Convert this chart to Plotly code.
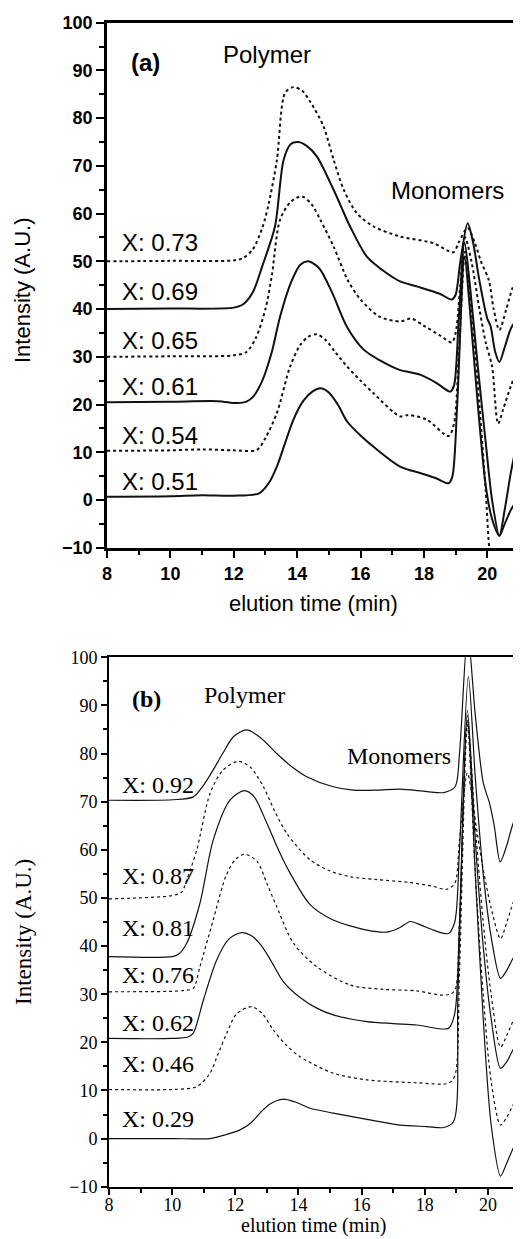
import plotly.graph_objects as go

# ---------------- panel (a) data ----------------
a_x073 = [8, 10, 12.0, 12.3, 12.6, 12.9, 13.1, 13.36, 13.62, 13.88, 14.15, 14.41, 14.83, 15.15, 15.47, 15.88, 16.41, 17.25, 18.3, 18.93, 19.1, 19.38, 19.6, 19.8, 20.05, 20.2, 20.38, 20.6, 20.8, 21]
a_y073 = [50, 50.1, 50.2, 50.7, 52.5, 57, 62, 71.2, 85.3, 86.5, 85.8, 83.5, 78.3, 71.3, 65, 60.1, 57.3, 55.2, 53.8, 51.9, 54, 57, 54, 50, 46, 40, 35.6, 40, 44.5, 47]

a_x069 = [8, 10, 12.0, 12.3, 12.6, 12.9, 13.3, 13.57, 13.8, 14.04, 14.3, 14.62, 15.15, 15.67, 16.2, 16.83, 17.25, 17.8, 18.5, 18.88, 19.0, 19.15, 19.38, 19.55, 19.75, 20.0, 20.1, 20.25, 20.38, 20.55, 20.75, 21]
a_y069 = [40, 40.1, 40.3, 41, 43.5, 49, 57.3, 71.2, 74.6, 75, 74.2, 72, 65, 57.3, 51, 47.5, 45.8, 44.7, 43.2, 42, 43, 50, 58, 54, 46, 38, 36.5, 31, 28.9, 32, 36, 38.4]

a_x065 = [8, 10, 12.0, 12.4, 12.7, 13.0, 13.2, 13.46, 13.8, 14.15, 14.45, 14.73, 15.15, 15.6, 16.0, 16.6, 17.25, 17.6, 18.0, 18.5, 18.88, 19.0, 19.15, 19.3, 19.5, 19.75, 19.95, 20.15, 20.34, 20.5, 20.75, 21]
a_y065 = [30, 30.1, 30.3, 31, 34, 40, 47, 58.7, 62.5, 63.6, 62, 58.7, 53.1, 46, 42, 38.4, 37.4, 38, 36.5, 34.5, 33, 35, 45, 55, 50, 40, 33, 28, 16, 19, 24, 28]

a_x061 = [8, 10, 11.5, 12.1, 12.4, 12.62, 12.9, 13.2, 13.46, 13.8, 14.1, 14.36, 14.7, 15.1, 15.57, 16.1, 16.6, 17.25, 17.6, 17.9, 18.4, 18.83, 18.95, 19.1, 19.28, 19.45, 19.7, 19.95, 20.15, 20.38, 20.55, 20.75, 21]
a_y061 = [20.5, 20.6, 20.7, 20.3, 20.6, 21.7, 25, 31, 38.4, 45.5, 49.3, 50, 48.5, 43.5, 36.3, 31.5, 29.3, 27.2, 26.7, 26.2, 24.5, 22.7, 24, 38, 54, 45, 28, 12, 0, -7.5, -2, 6, 14]

a_x054 = [8, 10, 11, 12, 12.73, 13.0, 13.36, 13.78, 14.1, 14.35, 14.62, 14.9, 15.2, 15.57, 16.0, 16.4, 17.25, 17.5, 17.7, 18.1, 18.78, 18.95, 19.1, 19.3, 19.5, 19.75, 19.95, 20.1, 20.3, 20.7, 21]
a_y054 = [10.3, 10.4, 10.6, 10.4, 10.5, 13, 18.2, 28, 32.5, 34.2, 34.7, 33.5, 31, 28, 25, 22.4, 17.5, 17.8, 17.6, 16.8, 13.4, 16, 30, 52, 40, 20, 2, -12, -16, -14, -6]

a_x051 = [8, 10, 11, 12, 12.8, 13.1, 13.36, 13.88, 14.2, 14.5, 14.73, 15.0, 15.3, 15.57, 16.0, 16.4, 17.25, 17.9, 18.4, 18.78, 18.9, 19.05, 19.28, 19.45, 19.7, 19.95, 20.15, 20.38, 20.55, 20.75, 21]
a_y051 = [0.7, 0.8, 1.0, 0.9, 1.4, 3.5, 7, 16.8, 20.8, 22.8, 23.4, 22.5, 19.8, 16.5, 13.5, 11.2, 7, 5.6, 4.5, 3.5, 5, 20, 51, 40, 20, 3, -4, -7.5, -5, -2, 0.5]

a_labels = ["X: 0.73", "X: 0.69", "X: 0.65", "X: 0.61", "X: 0.54", "X: 0.51"]
a_label_y = [53.9, 43.6, 33.5, 23.7, 13.6, 3.8]

# ---------------- panel (b) data ----------------
b_x092 = [8, 10, 10.67, 11.0, 11.3, 11.6, 11.94, 12.36, 12.8, 13.31, 13.8, 14.26, 15.1, 15.74, 16.5, 17.22, 18.07, 18.6, 18.96, 19.1, 19.36, 19.6, 19.85, 20.05, 20.2, 20.39, 20.6, 20.8, 21]
b_y092 = [70.3, 70.4, 71, 73.5, 76.6, 80, 83.5, 84.9, 83.3, 80, 77.2, 75.2, 73.1, 72.4, 72.4, 72.6, 72.1, 71.9, 73.1, 80, 105, 88, 74, 69.7, 65, 57.5, 61, 65.5, 68]

b_x087 = [8, 10, 10.3, 10.46, 10.78, 11.2, 11.6, 12.1, 12.5, 12.89, 13.25, 13.63, 14.37, 15.0, 15.64, 16.5, 17.54, 18.2, 18.7, 18.95, 19.1, 19.35, 19.6, 19.85, 20.1, 20.4, 20.6, 20.8, 21]
b_y087 = [49.8, 50.5, 51.2, 53.7, 60, 71.7, 76.5, 78.4, 77, 73.1, 68, 63.4, 57.9, 55.6, 54.4, 53.8, 53.2, 52.5, 51.8, 53, 62, 76, 66, 56, 48, 41.5, 45, 49, 52]

b_x081 = [8, 10, 10.2, 10.46, 10.88, 11.3, 11.83, 12.29, 12.6, 13.0, 13.4, 13.74, 14.37, 15.1, 16.17, 16.8, 17.2, 17.54, 17.9, 18.28, 18.75, 18.95, 19.1, 19.38, 19.6, 19.85, 20.1, 20.4, 20.6, 20.8, 21]
b_y081 = [37.8, 37.8, 38.3, 40.6, 48.9, 62, 70.3, 72.3, 71, 65.5, 59.5, 55.1, 48.6, 45.4, 43.3, 42.9, 43.8, 45.1, 44.3, 43.3, 42.6, 45, 60, 96, 75, 55, 42, 33.3, 35, 37.5, 39.2]

b_x076 = [8, 10, 10.4, 10.67, 10.88, 11.3, 11.7, 12.0, 12.31, 12.7, 13.0, 13.31, 13.84, 14.58, 15.64, 16.69, 17.75, 18.49, 18.8, 18.96, 19.1, 19.35, 19.6, 19.85, 20.1, 20.4, 20.6, 20.8, 21]
b_y076 = [30.5, 30.6, 30.8, 31.2, 35.7, 45.4, 54.5, 58, 59.1, 57.5, 53, 48.2, 40.6, 35.7, 31.9, 31, 30.7, 29.8, 30, 30.9, 45, 87, 65, 45, 30, 19, 21.5, 24.5, 27.4]

b_x062 = [8, 10, 10.5, 10.67, 10.99, 11.41, 11.8, 12.2, 12.5, 12.8, 13.1, 13.52, 14.05, 14.58, 15.1, 16.17, 17.0, 17.75, 18.75, 18.95, 19.1, 19.35, 19.6, 19.85, 20.1, 20.4, 20.6, 20.8, 21]
b_y062 = [20.8, 20.8, 21.1, 21.9, 28.8, 37.1, 41.5, 42.8, 42.2, 40.3, 37.3, 32.6, 29.3, 27.1, 25.7, 24.3, 23.9, 23.6, 22.9, 26, 45, 89, 62, 40, 25, 14.6, 16, 18.5, 20.1]

b_x046 = [8, 10, 10.78, 11.2, 11.45, 11.73, 12.05, 12.52, 12.85, 13.2, 13.6, 14.05, 15.1, 16.17, 17.75, 18.75, 18.95, 19.1, 19.35, 19.6, 19.85, 20.1, 20.4, 20.6, 20.8, 21]
b_y046 = [10.2, 10.2, 10.8, 13.6, 17.5, 21.9, 26, 27.4, 26, 22.6, 19.5, 17, 13.6, 12.2, 11.6, 11.5, 13, 35, 86, 55, 30, 12, 2.8, 4.5, 7, 9.4]

b_x029 = [8, 10, 11.2, 11.7, 12.15, 12.5, 12.78, 13.1, 13.52, 13.9, 14.37, 15.1, 16.17, 17.22, 18.07, 18.6, 18.91, 19.05, 19.35, 19.6, 19.85, 20.1, 20.4, 20.6, 20.8, 21]
b_y029 = [0, 0, 0, 0.8, 1.8, 3.3, 5.3, 7.2, 8.2, 7.6, 6.3, 5.3, 4, 2.8, 2.5, 2.3, 3.5, 30, 88, 55, 25, 3, -7.8, -5, -2, 0.7]

b_labels = ["X: 0.92", "X: 0.87", "X: 0.81", "X: 0.76", "X: 0.62", "X: 0.46", "X: 0.29"]
b_label_y = [73.5, 54.6, 43.8, 34.0, 24.0, 15.5, 4.1]

x_ticks = [8, 10, 12, 14, 16, 18, 20]
y_ticks = [-10, 0, 10, 20, 30, 40, 50, 60, 70, 80, 90, 100]

# page is shown with the browser's default 8px body margin
OFF = 8
W, H = 521 - OFF, 1239


def px(p):
    return (p - OFF) / W


def py(p):
    return 1 - (p - OFF) / H


fig = go.Figure()

a_series = [(a_x073, a_y073, "dot"), (a_x069, a_y069, "solid"), (a_x065, a_y065, "dot"),
            (a_x061, a_y061, "solid"), (a_x054, a_y054, "dot"), (a_x051, a_y051, "solid")]
for xs, ys, dash in a_series:
    fig.add_trace(go.Scatter(x=xs, y=ys, mode="lines", xaxis="x", yaxis="y",
                             line=dict(color="#111", width=2, dash=dash, shape="spline", smoothing=0.8),
                             showlegend=False, hoverinfo="skip"))

b_series = [(b_x092, b_y092, "solid"), (b_x087, b_y087, "dot"), (b_x081, b_y081, "solid"),
            (b_x076, b_y076, "dot"), (b_x062, b_y062, "solid"), (b_x046, b_y046, "dot"),
            (b_x029, b_y029, "solid")]
for xs, ys, dash in b_series:
    fig.add_trace(go.Scatter(x=xs, y=ys, mode="lines", xaxis="x2", yaxis="y2",
                             line=dict(color="#111", width=1.2, dash=dash, shape="spline", smoothing=0.8),
                             showlegend=False, hoverinfo="skip"))

sans = "Liberation Sans, Arial, sans-serif"
serif = "Liberation Serif, Times New Roman, serif"


def axis_common(font, lw, tl, mtl, dtick_minor):
    return dict(showline=True, linecolor="black", linewidth=lw, mirror=True, automargin=False,
                ticks="outside", ticklen=tl, tickwidth=lw * 0.8, tickcolor="black",
                minor=dict(ticks="outside", ticklen=mtl, tickwidth=lw * 0.8, tickcolor="black", dtick=dtick_minor),
                showgrid=False, zeroline=False, tickfont=font)


fa = dict(family=sans, size=18, color="black", weight="bold")
fb = dict(family=serif, size=18, color="black")

fig.update_layout(
    width=W, height=H, margin=dict(l=0, r=0, t=0, b=0, pad=0, autoexpand=False),
    paper_bgcolor="white", plot_bgcolor="white",
    xaxis=dict(domain=[px(107), px(519)], range=[8, 21], tickvals=x_ticks, anchor="y",
               **axis_common(fa, 2.5, 8, 5, 1)),
    yaxis=dict(domain=[py(547.7), py(22.7)], range=[-10, 100], tickvals=y_ticks, anchor="x",
               **axis_common(fa, 2.5, 8, 5, 5)),
    xaxis2=dict(domain=[px(109), px(519.5)], range=[8, 21], tickvals=x_ticks, anchor="y2",
                ticklabelstandoff=-5, **axis_common(fb, 2, 6, 4, 1)),
    yaxis2=dict(domain=[py(1186.7), py(657.3)], range=[-10, 100], tickvals=y_ticks, anchor="x2",
                **axis_common(fb, 2, 6, 4, 5)),
)

ann = []
lab_a = dict(family=sans, size=24, color="black")
lab_b = dict(family=serif, size=24, color="black")
for t, yv in zip(a_labels, a_label_y):
    ann.append(dict(x=8.41, y=yv, xref="x", yref="y", text=t, showarrow=False, xanchor="left", yanchor="middle", font=lab_a))
for t, yv in zip(b_labels, b_label_y):
    ann.append(dict(x=8.35, y=yv, xref="x2", yref="y2", text=t, showarrow=False, xanchor="left", yanchor="middle", font=lab_b))

C = dict(showarrow=False, xanchor="center", yanchor="middle")
ann += [
    dict(x=9.23, y=91.6, xref="x", yref="y", text="<b>(a)</b>", font=lab_a, **C),
    dict(x=13.05, y=93.3, xref="x", yref="y", text="Polymer", font=lab_a, **C),
    dict(x=18.74, y=64.8, xref="x", yref="y", text="Monomers", font=lab_a, **C),
    dict(x=9.2, y=91.3, xref="x2", yref="y2", text="<b>(b)</b>", font=lab_b, **C),
    dict(x=12.28, y=92.2, xref="x2", yref="y2", text="Polymer", font=lab_b, **C),
    dict(x=17.19, y=79.5, xref="x2", yref="y2", text="Monomers", font=lab_b, **C),
    # axis titles
    dict(x=px(313), y=py(603), xref="paper", yref="paper", text="elution time (min)",
         font=dict(family=sans, size=22, color="black"), **C),
    dict(x=px(23), y=py(291), xref="paper", yref="paper", text="Intensity (A.U.)", textangle=-90,
         font=dict(family=sans, size=22, color="black"), **C),
    dict(x=px(314), y=py(1225), xref="paper", yref="paper", text="elution time (min)", borderpad=0,
         font=dict(family=serif, size=20, color="black"), **C),
    dict(x=px(23), y=py(932), xref="paper", yref="paper", text="Intensity (A.U.)", textangle=-90,
         font=dict(family=serif, size=23, color="black"), **C),
]
fig.update_layout(annotations=ann)

fig.write_html("out.html")
